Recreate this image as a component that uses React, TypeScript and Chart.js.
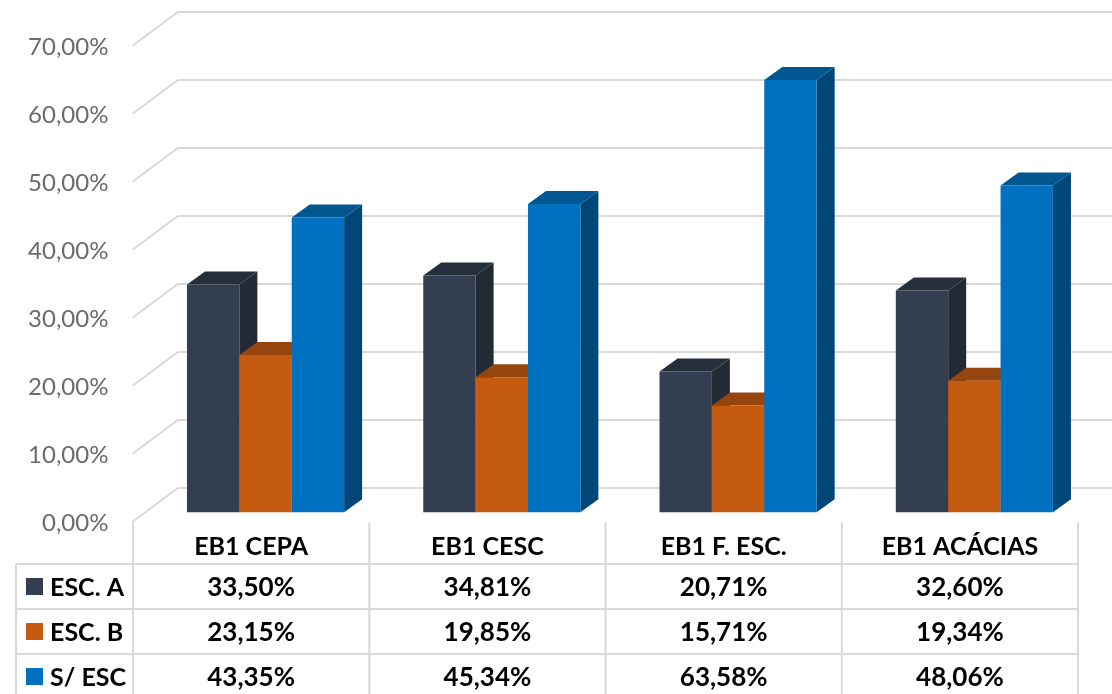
import React, { useEffect, useRef } from "react";
import { Chart, registerables } from "chart.js";

Chart.register(...registerables);

const categories = ["EB1 CEPA", "EB1 CESC", "EB1 F. ESC.", "EB1 ACÁCIAS"];
const seriesNames = ["ESC. A", "ESC. B", "S/ ESC"];
const escA = [33.5, 34.81, 20.71, 32.6];
const escB = [23.15, 19.85, 15.71, 19.34];
const semEsc = [43.35, 45.34, 63.58, 48.06];
const seriesValues = [escA, escB, semEsc];
const frontColors = ["#333f50", "#c55a11", "#0070c0"];
const sideColors = ["#222a35", "#843c0c", "#004779"];
const topColors = ["#252f3c", "#95450d", "#00568f"];

const FONT = "Lato, 'Open Sans', sans-serif";
const GRID = "#d9d9d9";
const BAR_DX = 18;
const BAR_DY = 13;
const WALL_BACK = -24.3;
const WALL_FRONT = 9.5;
const WALL_X0 = 132.5;
const WALL_X1 = 178;
const X_SHIFT = 14.4;
const ROW_TOPS = [564, 609, 654, 699];
const TABLE_LEFT = 16;

const pct = (v: number) => v.toFixed(2).replace(".", ",") + "%";

const scene = {
  id: "scene3d",
  beforeDatasetsDraw(chart: any) {
    const { ctx } = chart;
    const y = chart.scales.y;
    ctx.save();
    ctx.strokeStyle = GRID;
    ctx.lineWidth = 2;
    y.ticks.forEach((t: any) => {
      const p = y.getPixelForValue(t.value);
      ctx.beginPath();
      ctx.moveTo(WALL_X0, p + WALL_FRONT);
      ctx.lineTo(WALL_X1, p + WALL_BACK);
      ctx.lineTo(chart.width, p + WALL_BACK);
      ctx.stroke();
    });
    ctx.restore();
  },
  beforeDatasetDraw() {
    return false;
  },
  afterDatasetsDraw(chart: any) {
    const { ctx } = chart;
    ctx.save();
    seriesValues.forEach((_, d) => {
      const meta = chart.getDatasetMeta(d);
      meta.data.forEach((bar: any) => {
        const { x, y, base, width } = bar.getProps(["x", "y", "base", "width"], true);
        const r = x + width / 2;
        const l = x - width / 2;
        ctx.fillStyle = sideColors[d];
        ctx.beginPath();
        ctx.moveTo(r, y);
        ctx.lineTo(r + BAR_DX, y - BAR_DY);
        ctx.lineTo(r + BAR_DX, base - BAR_DY);
        ctx.lineTo(r, base);
        ctx.closePath();
        ctx.fill();
        ctx.fillStyle = topColors[d];
        ctx.beginPath();
        ctx.moveTo(l, y);
        ctx.lineTo(l + BAR_DX, y - BAR_DY);
        ctx.lineTo(r + BAR_DX, y - BAR_DY);
        ctx.lineTo(r, y);
        ctx.closePath();
        ctx.fill();
        bar.draw(ctx);
      });
    });
    ctx.restore();
  },
  afterDraw(chart: any) {
    const { ctx } = chart;
    const xs = chart.scales.x;
    const cell = xs.width / categories.length;
    const left = xs.left - X_SHIFT;
    const right = left + cell * categories.length;
    ctx.save();
    ctx.strokeStyle = GRID;
    ctx.lineWidth = 2;
    categories.concat("").forEach((_, i) => {
      const px = left + i * cell;
      ctx.beginPath();
      ctx.moveTo(px, xs.top + 10);
      ctx.lineTo(px, chart.height);
      ctx.stroke();
    });
    ROW_TOPS.forEach((py) => {
      ctx.beginPath();
      ctx.moveTo(TABLE_LEFT, py);
      ctx.lineTo(right + 1, py);
      ctx.stroke();
    });
    ctx.beginPath();
    ctx.moveTo(TABLE_LEFT, ROW_TOPS[0]);
    ctx.lineTo(TABLE_LEFT, chart.height);
    ctx.stroke();

    ctx.textBaseline = "middle";
    seriesNames.forEach((name, r) => {
      const cy = (ROW_TOPS[r] + ROW_TOPS[r + 1]) / 2 + 1;
      ctx.fillStyle = frontColors[r];
      ctx.fillRect(26, cy - 9.5, 17, 17);
      ctx.fillStyle = "#000";
      ctx.font = `bold 25px ${FONT}`;
      ctx.textAlign = "left";
      ctx.fillText(name, 50, cy);
      ctx.font = `bold 26px ${FONT}`;
      ctx.textAlign = "center";
      seriesValues[r].forEach((v, c) => {
        ctx.fillText(pct(v), left + (c + 0.5) * cell, cy);
      });
    });
    ctx.restore();
  },
};

export default function App() {
  const ref = useRef<HTMLCanvasElement>(null);
  useEffect(() => {
    const chart = new Chart(ref.current as HTMLCanvasElement, {
      type: "bar",
      data: {
        labels: categories,
        datasets: seriesNames.map((label, i) => ({
          label,
          data: seriesValues[i],
          backgroundColor: frontColors[i],
          barPercentage: 1,
          categoryPercentage: 0.665,
        })),
      },
      options: {
        responsive: false,
        animation: false,
        layout: { padding: { top: 36.3, right: 19.5, left: 0, bottom: 0 } },
        plugins: { legend: { display: false }, tooltip: { enabled: false }, title: { display: false } },
        scales: {
          x: {
            grid: { display: false, drawTicks: false },
            border: { display: false },
            afterFit(s: any) {
              s.height = 181.7;
              s.paddingLeft = 0;
              s.paddingRight = 0;
            },
            ticks: {
              color: "#000",
              font: { family: FONT, size: 25, weight: "bold" },
              padding: 20,
              labelOffset: -X_SHIFT,
              maxRotation: 0,
              minRotation: 0,
              autoSkip: false,
            },
          },
          y: {
            min: 0,
            max: 70,
            grid: { display: false, drawTicks: false },
            border: { display: false },
            afterFit(s: any) {
              s.width = 147.4;
              s.paddingTop = 0;
              s.paddingBottom = 0;
            },
            ticks: {
              stepSize: 10,
              color: "#6b6b6b",
              font: { family: FONT, size: 24 },
              padding: 39,
              labelOffset: 10.5,
              callback: (v: any) => pct(Number(v)),
            },
          },
        },
      },
      plugins: [scene],
    } as any);
    return () => chart.destroy();
  }, []);
  return (
    <canvas
      ref={ref}
      width={1112}
      height={694}
      style={{ position: "absolute", left: 0, top: 0, width: 1112, height: 694, display: "block" }}
    />
  );
}
